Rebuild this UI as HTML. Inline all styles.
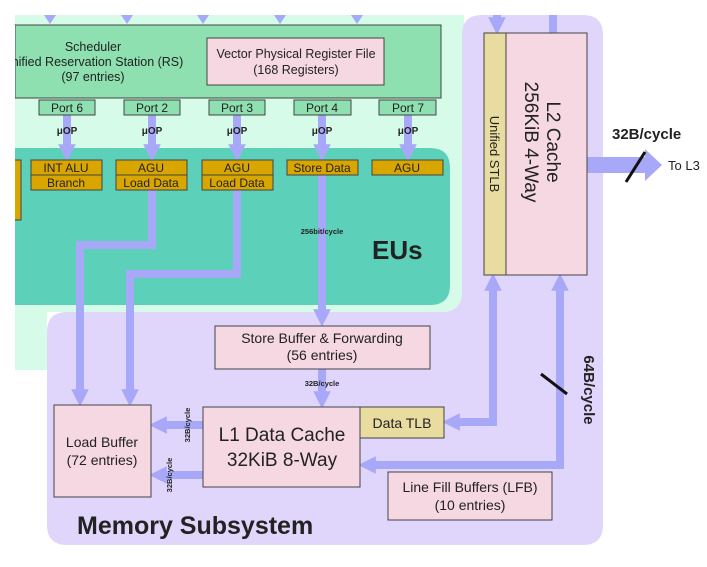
<!DOCTYPE html>
<html><head><meta charset="utf-8"><style>
html,body{margin:0;padding:0;background:#fff}
svg{display:block}
text{font-family:"Liberation Sans","DejaVu Sans",sans-serif;fill:#222}
</style></head><body>
<svg width="707" height="567" viewBox="0 0 707 567" xmlns="http://www.w3.org/2000/svg">
<defs>
<marker id="ah" viewBox="0 0 10 10" refX="5" refY="5" markerWidth="2.2" markerHeight="2.2" orient="auto"><path d="M0,0 L10,5 L0,10 z" fill="#a8a8f8"/></marker>
</defs>
<!-- mint backdrop -->
<path d="M15,15 H464 V290 Q464,312 442,312 H47 V370 H15 Z" fill="#d6fbe8"/>
<!-- purple regions -->
<path d="M482,15 H583 Q603,15 603,35 V525 Q603,545 583,545 H67 Q47,545 47,525 V332 Q47,312 67,312 H442 Q462,312 462,292 V35 Q462,15 482,15 Z" fill="#e0d5fb"/>
<!-- EU region -->
<path d="M15,148 H430 Q450,148 450,168 V285 Q450,305 430,305 H15 Z" fill="#5cd0b9"/>
<!-- top arrows -->
<g fill="#a8a8f8"><path d="M44,15 h12 l-6,9z"/><path d="M121,15 h12 l-6,9z"/><path d="M197,15 h12 l-6,9z"/><path d="M274,15 h12 l-6,9z"/><path d="M351,15 h12 l-6,9z"/></g>
<!-- scheduler -->
<rect x="15" y="25" width="426" height="73" fill="#8ee0b0" stroke="#444" stroke-width="1"/>
<text x="93" y="51" font-size="12.5" text-anchor="middle">Scheduler</text>
<text x="93" y="66" font-size="12.5" text-anchor="middle">Unified Reservation Station (RS)</text>
<text x="93" y="81" font-size="12.5" text-anchor="middle">(97 entries)</text>
<rect x="15" y="25" width="0" height="0"/>
<rect x="0" y="25" width="15" height="75" fill="#fff"/>
<rect x="207" y="38" width="177" height="47" fill="#f5d8e2" stroke="#444"/>
<text x="296" y="58" font-size="12.5" text-anchor="middle">Vector Physical Register File</text>
<text x="296" y="74" font-size="12.5" text-anchor="middle">(168 Registers)</text>
<!-- port lines -->
<g stroke="#a8a8f8" stroke-width="8" fill="none">
<path d="M67,115 V153" marker-end="url(#ah)"/>
<path d="M152,115 V153" marker-end="url(#ah)"/>
<path d="M237,115 V153" marker-end="url(#ah)"/>
<path d="M322,115 V153" marker-end="url(#ah)"/>
<path d="M408,115 V153" marker-end="url(#ah)"/>
<path d="M152,190 V245 H80 V398" marker-end="url(#ah)"/>
<path d="M237,190 V274 H130 V398" marker-end="url(#ah)"/>
<path d="M322,175 V318" marker-end="url(#ah)"/>
<path d="M322,369 V400" marker-end="url(#ah)"/>
<path d="M203,425 H158" marker-end="url(#ah)"/>
<path d="M203,475 H158" marker-end="url(#ah)"/>
<path d="M493,282 V422 H451" marker-end="url(#ah)"/>
<path d="M493,415 V282" marker-end="url(#ah)"/>
<path d="M560,282 V465 H367" marker-end="url(#ah)"/>
<path d="M560,460 V282" marker-end="url(#ah)"/>
<path d="M497,15 V26" marker-end="url(#ah)"/>
<path d="M553,15 V33"/>
</g>
<path d="M587,157 H645 V149 L662,165 L645,181 V173 H587 Z" fill="#a8a8f8"/>
<!-- ports -->
<g fill="#8ee0b0" stroke="#444">
<rect x="39" y="100" width="56" height="15"/><rect x="124" y="100" width="56" height="15"/><rect x="209" y="100" width="56" height="15"/><rect x="294" y="100" width="57" height="15"/><rect x="379" y="100" width="57" height="15"/>
</g>
<g font-size="12" text-anchor="middle">
<text x="67" y="112">Port 6</text><text x="152" y="112">Port 2</text><text x="237" y="112">Port 3</text><text x="322" y="112">Port 4</text><text x="408" y="112">Port 7</text>
</g>
<g font-size="10" font-weight="bold" text-anchor="middle">
<text x="67" y="134">μOP</text><text x="152" y="134">μOP</text><text x="237" y="134">μOP</text><text x="322" y="134">μOP</text><text x="408" y="134">μOP</text>
</g>
<!-- EU boxes -->
<g fill="#d9a600" stroke="#444">
<rect x="8" y="160" width="13" height="60"/>
<rect x="31" y="160" width="71" height="15"/><rect x="31" y="175" width="71" height="15"/>
<rect x="116" y="160" width="71" height="15"/><rect x="116" y="175" width="71" height="15"/>
<rect x="202" y="160" width="71" height="15"/><rect x="202" y="175" width="71" height="15"/>
<rect x="287" y="160" width="71" height="15"/>
<rect x="372" y="160" width="71" height="15"/>
</g>
<rect x="0" y="150" width="15" height="80" fill="#fff"/>
<g font-size="12" text-anchor="middle">
<text x="66" y="172">INT ALU</text><text x="66" y="187">Branch</text>
<text x="151" y="172">AGU</text><text x="151" y="187">Load Data</text>
<text x="237" y="172">AGU</text><text x="237" y="187">Load Data</text>
<text x="322" y="172">Store Data</text>
<text x="407" y="172">AGU</text>
</g>
<text x="322" y="234" font-size="7.5" font-weight="bold" text-anchor="middle">256bit/cycle</text>
<text x="372" y="259" font-size="26" font-weight="bold">EUs</text>
<!-- L2 -->
<rect x="484" y="33" width="22" height="242" fill="#e8dca0" stroke="#444"/>
<rect x="506" y="33" width="81" height="242" fill="#f5d8e2" stroke="#444"/>
<text transform="translate(490,154) rotate(90)" font-size="13" text-anchor="middle">Unified STLB</text>
<text transform="translate(525,142) rotate(90)" font-size="19" text-anchor="middle">256KiB 4-Way</text>
<text transform="translate(547,142) rotate(90)" font-size="19" text-anchor="middle">L2 Cache</text>
<text x="612" y="139" font-size="15" font-weight="bold">32B/cycle</text>
<line x1="645" y1="152" x2="626" y2="182" stroke="#111" stroke-width="3"/>
<text x="668" y="170" font-size="13">To L3</text>
<!-- store buffer -->
<rect x="215" y="326" width="215" height="43" fill="#f5d8e2" stroke="#444"/>
<text x="322" y="343" font-size="14" text-anchor="middle">Store Buffer &amp; Forwarding</text>
<text x="322" y="360" font-size="14" text-anchor="middle">(56 entries)</text>
<text x="322" y="386" font-size="7.5" font-weight="bold" text-anchor="middle">32B/cycle</text>
<!-- L1 -->
<rect x="203" y="407" width="157" height="80" fill="#f5d8e2" stroke="#444"/>
<text x="282" y="441" font-size="19" text-anchor="middle">L1 Data Cache</text>
<text x="282" y="466" font-size="19" text-anchor="middle">32KiB 8-Way</text>
<rect x="360" y="407" width="84" height="31" fill="#e8dca0" stroke="#444"/>
<text x="402" y="428" font-size="14" text-anchor="middle">Data TLB</text>
<rect x="54" y="405" width="97" height="92" fill="#f5d8e2" stroke="#444"/>
<text x="102" y="447" font-size="14" text-anchor="middle">Load Buffer</text>
<text x="102" y="465" font-size="14" text-anchor="middle">(72 entries)</text>
<text transform="translate(190,425) rotate(-90)" font-size="7.5" font-weight="bold" text-anchor="middle">32B/cycle</text>
<text transform="translate(172,475) rotate(-90)" font-size="7.5" font-weight="bold" text-anchor="middle">32B/cycle</text>
<rect x="388" y="472" width="164" height="48" fill="#f5d8e2" stroke="#444"/>
<text x="470" y="492" font-size="14" text-anchor="middle">Line Fill Buffers (LFB)</text>
<text x="470" y="510" font-size="14" text-anchor="middle">(10 entries)</text>
<text transform="translate(584,390) rotate(90)" font-size="15" font-weight="bold" text-anchor="middle">64B/cycle</text>
<line x1="541" y1="374" x2="567" y2="394" stroke="#111" stroke-width="3"/>
<text x="77" y="534" font-size="25" font-weight="bold">Memory Subsystem</text>
</svg>
</body></html>
